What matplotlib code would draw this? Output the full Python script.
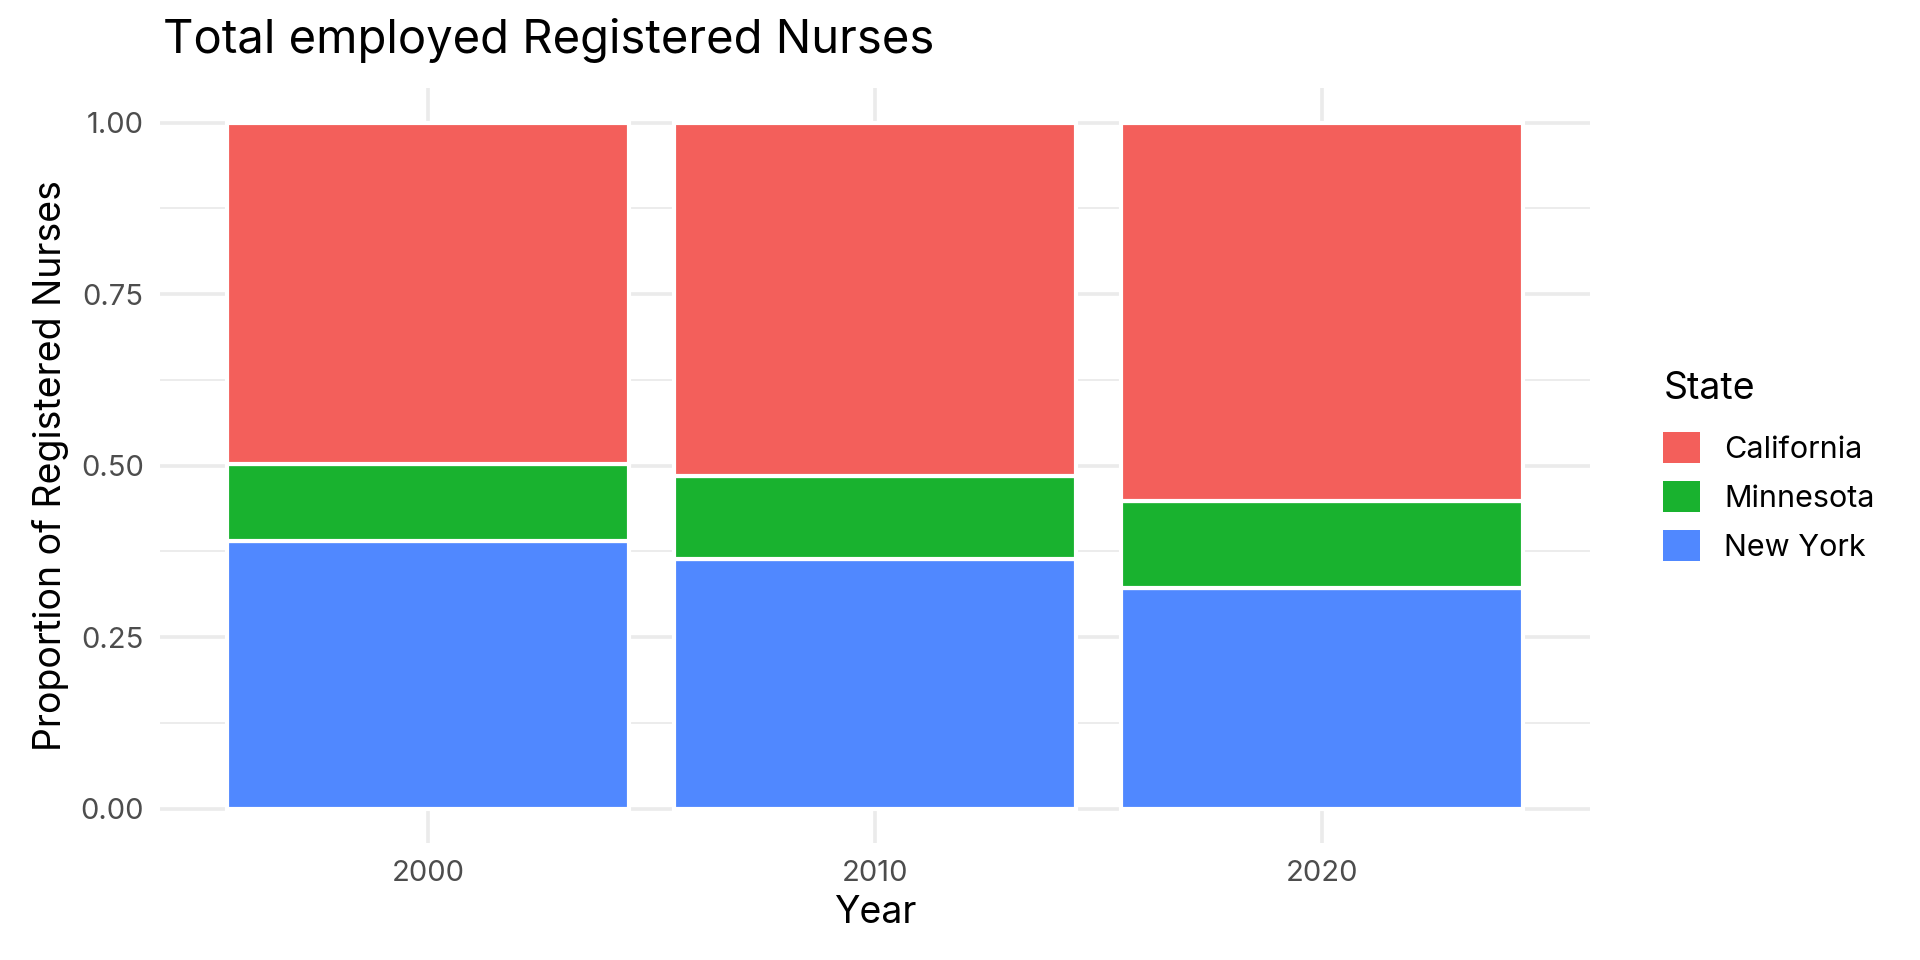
import matplotlib
matplotlib.use("Agg")
import matplotlib.pyplot as plt
import matplotlib.patches as ptc
import numpy as np

plt.rcParams['font.family'] = ['Inter', 'DejaVu Sans']

# share of employed RNs per year
years = ['2000', '2010', '2020']
states = ['California', 'Minnesota', 'New York']
new_york = [0.390, 0.364, 0.321]
minnesota = [0.112, 0.121, 0.127]
california = [0.498, 0.515, 0.552]

colors = {'California': '#F35F5B', 'Minnesota': '#19B22F', 'New York': '#5088FF'}

fig = plt.figure(figsize=(19.2, 9.6), dpi=100)
ax = fig.add_axes([0.0835, 0.122, 0.7445, 0.786])

x = np.arange(1, len(years) + 1)
#stack from the bottom: NY, then MN, then CA
bottom = np.zeros(len(years))
for name, vals in [('New York', new_york), ('Minnesota', minnesota), ('California', california)]:
    ax.bar(x, vals, width=0.9, bottom=bottom, color=colors[name], edgecolor='white',
           linewidth=3, zorder=2)
    bottom += np.array(vals)

ax.set_xlim(0.4, 3.6)
ax.set_ylim(-0.05, 1.05)
ax.set_xticks(x)
ax.set_xticklabels(years)
ax.set_yticks([0, 0.25, 0.5, 0.75, 1.0])
ax.set_yticklabels(['0.00', '0.25', '0.50', '0.75', '1.00'])
ax.set_yticks([0.125, 0.375, 0.625, 0.875], minor=True)

ax.grid(True, which='major', color='#EBEBEB', linewidth=2.6, zorder=0)
ax.grid(True, which='minor', axis='y', color='#EBEBEB', linewidth=1.3, zorder=0)
ax.set_axisbelow(True)
for s in ax.spines.values():
    s.set_visible(False)
ax.tick_params(which='both', length=0, labelsize=21, labelcolor='#4D4D4D', pad=12)

ax.set_xlabel('Year', fontsize=27, labelpad=6)
ax.set_ylabel('Proportion of Registered Nurses', fontsize=27, labelpad=8)
fig.text(0.085, 0.958, 'Total employed Registered Nurses', fontsize=34, va='center', ha='left')

handles = [ptc.Patch(facecolor=colors[s], edgecolor='none') for s in states]
leg = fig.legend(handles, states, loc='upper left', bbox_to_anchor=(0.852, 0.642),
                 frameon=False, title='State', fontsize=22, title_fontsize=27,
                 handlelength=1.2, handleheight=1.2, handletextpad=0.8, labelspacing=0.55)
leg._legend_box.align = 'left'
leg._legend_box.sep = 18

fig.savefig('out.png', dpi=100)
